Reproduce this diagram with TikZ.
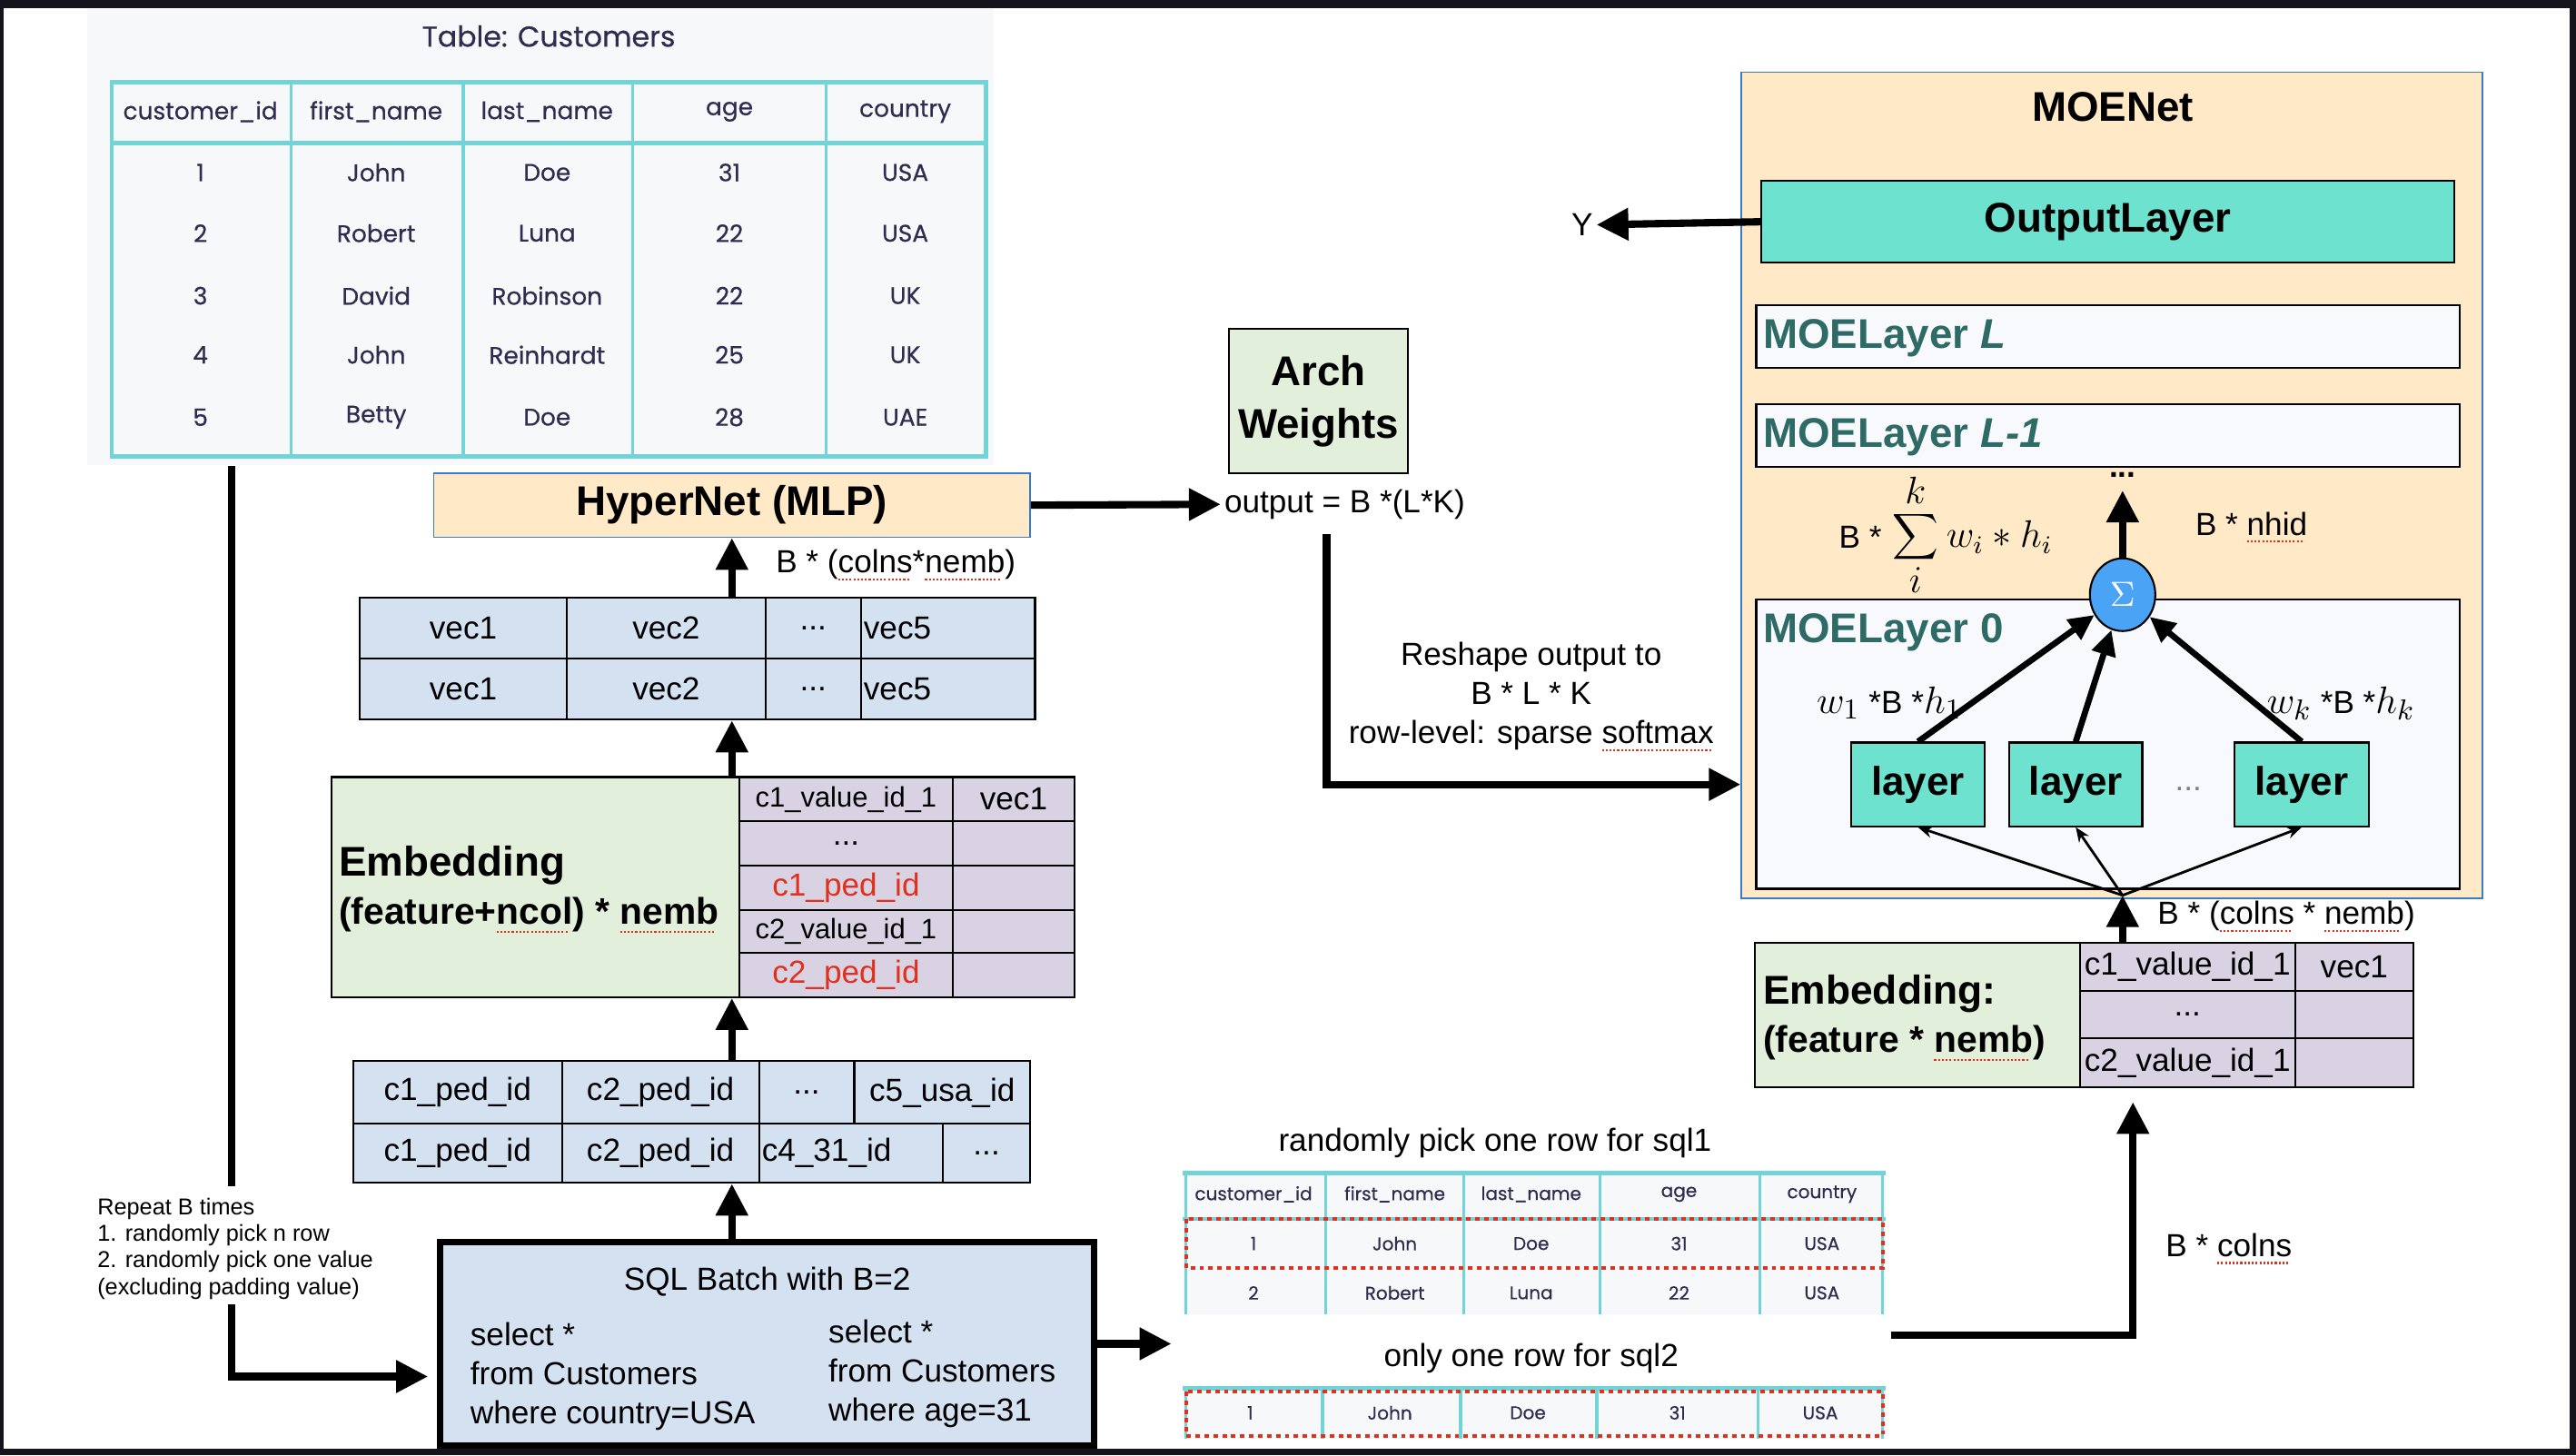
\documentclass[tikz,border=0pt]{standalone}
\usepackage{fontspec}
\setmainfont{Liberation Sans}
\newfontfamily\tabfont[FakeBold=0.5]{Poppins}
\usetikzlibrary{arrows.meta, positioning, fit, shapes.geometric}
\definecolor{framebg}{RGB}{21,19,28}
\definecolor{hyperbg}{RGB}{255,233,198}
\definecolor{hyperline}{RGB}{58,123,200}
\definecolor{archbg}{RGB}{226,239,218}
\definecolor{vecbg}{RGB}{212,225,241}
\definecolor{embbg}{RGB}{216,210,226}
\definecolor{layerbg}{RGB}{108,226,207}
\definecolor{moebg}{RGB}{248,249,253}
\definecolor{moetext}{RGB}{46,107,102}
\definecolor{sumbg}{RGB}{74,163,245}
\definecolor{pedred}{RGB}{224,48,30}
\definecolor{tablebg}{RGB}{247,248,250}
\definecolor{tableline}{RGB}{115,212,215}
\definecolor{tabletext}{RGB}{46,44,79}
% red dotted underline of the spell checker
\newsavebox{\sqbox}
\newcommand{\sq}[1]{\sbox{\sqbox}{#1}\leavevmode\rlap{\color{pedred}\hbox to \wd\sqbox{\leaders\hbox{\rule[-0.45ex]{0.6pt}{0.6pt}\kern0.6pt}\hfil}}\usebox{\sqbox}}

\begin{document}
\begin{tikzpicture}[
    x=0.018087cm, y=-0.018087cm,
    every label/.style={inner sep=0pt, font=\fontsize{10}{12}\selectfont},
    txt/.style={font=\fontsize{10}{12.2}\selectfont, inner sep=1pt},
    bigfont/.style={font=\fontsize{13}{15}\selectfont\bfseries},
    cell/.style={draw, inner sep=0pt, line width=0.6pt},
    veccell/.style={cell, fill=vecbg},
    embcell/.style={cell, fill=embbg},
    greenbox/.style={draw, inner sep=0pt, line width=0.6pt, fill=archbg},
    orangebox/.style={draw=hyperline, inner sep=0pt, line width=0.5pt, fill=hyperbg},
    moebox/.style={draw, inner sep=0pt, line width=0.6pt, fill=moebg},
    layertitle/.style={font=\fontsize{13}{15}\selectfont\bfseries, text=moetext, anchor=west, inner sep=1pt},
    layerbox/.style={draw, inner sep=0pt, line width=0.6pt, fill=layerbg},
    tabtxt/.style={font=\tabfont\fontsize{7.5}{9}\selectfont, text=tabletext, inner sep=0pt},
    pickt/.style={font=\tabfont\fontsize{5.7}{7}\selectfont, text=tabletext, inner sep=0pt},
    tabline/.style={draw=tableline, line width=0.9pt},
    pickbox/.style={draw=pedred, line width=1.2pt, dash pattern=on 1.4pt off 1.4pt},
    sumpart/.style={font=\fontsize{12}{14}\selectfont, inner sep=0pt},
    arrow/.style={-{Triangle[length=0.35cm,width=0.34cm]}, line width=2.3pt},
    warrow/.style={-{Triangle[length=0.28cm,width=0.26cm]}, line width=1.9pt},
    farrow/.style={-{Stealth[length=0.16cm,width=0.13cm]}, line width=0.8pt}
]
    % Frame
    \useasboundingbox (0,0) rectangle (1568,886);
    \fill[framebg] (0,0) rectangle (1568,886);
    \fill[white] (2,5) rectangle (1564,882);

    % Table: Customers
    \node[fit={(53,5) (605,283)}, fill=tablebg, inner sep=0pt] (custtab) {};
    \node[tabtxt, font=\tabfont\fontsize{9}{11}\selectfont] (custtitle) at (334,22) {Table: Customers};
    \draw[tabline, line width=1.4pt] (68,50) rectangle (600,278);
    \draw[tabline, line width=1.4pt] (68,87) -- (600,87);
    \draw[tabline] (177,50) -- (177,278) (282,50) -- (282,278) (385,50) -- (385,278) (503,50) -- (503,278);
    \node[tabtxt] (h1) at (122,68) {customer\_id};
    \node[tabtxt] (h2) at (229,68) {first\_name};
    \node[tabtxt] (h3) at (333,68) {last\_name};
    \node[tabtxt] (h4) at (444,68) {age};
    \node[tabtxt] (h5) at (551,68) {country};
    \node[tabtxt] (r1c1) at (122,105) {1};
    \node[tabtxt] (r1c2) at (229,105) {John};
    \node[tabtxt] (r1c3) at (333,105) {Doe};
    \node[tabtxt] (r1c4) at (444,105) {31};
    \node[tabtxt] (r1c5) at (551,105) {USA};
    \node[tabtxt] (r2c1) at (122,142) {2};
    \node[tabtxt] (r2c2) at (229,142) {Robert};
    \node[tabtxt] (r2c3) at (333,142) {Luna};
    \node[tabtxt] (r2c4) at (444,142) {22};
    \node[tabtxt] (r2c5) at (551,142) {USA};
    \node[tabtxt] (r3c1) at (122,180) {3};
    \node[tabtxt] (r3c2) at (229,180) {David};
    \node[tabtxt] (r3c3) at (333,180) {Robinson};
    \node[tabtxt] (r3c4) at (444,180) {22};
    \node[tabtxt] (r3c5) at (551,180) {UK};
    \node[tabtxt] (r4c1) at (122,216) {4};
    \node[tabtxt] (r4c2) at (229,216) {John};
    \node[tabtxt] (r4c3) at (333,216) {Reinhardt};
    \node[tabtxt] (r4c4) at (444,216) {25};
    \node[tabtxt] (r4c5) at (551,216) {UK};
    \node[tabtxt] (r5c1) at (122,254) {5};
    \node[tabtxt] (r5c2) at (229,254) {Betty};
    \node[tabtxt] (r5c3) at (333,254) {Doe};
    \node[tabtxt] (r5c4) at (444,254) {28};
    \node[tabtxt] (r5c5) at (551,254) {UAE};

    % HyperNet and Arch Weights
    \node[orangebox, fit={(264,288) (627,327)}, label={[bigfont]center:HyperNet (MLP)}] (hyper) {};
    \node[greenbox, fit={(748,200) (857,288)}, label={[align=center, font=\fontsize{13}{16.5}\selectfont\bfseries]center:{Arch\\Weights}}] (arch) {};
    \node[txt, anchor=west] (outtxt) at (743,307) {output = B *(L*K)};
    \node[txt, anchor=west] (hypersize) at (470,344) {B * (\sq{colns}*\sq{nemb})};
    \node[txt, align=center] (reshapetxt) at (932,424) {Reshape output to\\B * L * K\\row-level: sparse \sq{softmax}};

    % Column vectors
    \node[veccell, fit={(219,364) (345,401)}, label=center:vec1] (v11) {};
    \node[veccell, fit={(345,364) (466,401)}, label=center:vec2] (v12) {};
    \node[veccell, fit={(466,364) (524,401)}, label=center:...] (v13) {};
    \node[veccell, fit={(524,364) (630,401)}] (v14) {};
    \node[txt, anchor=west] (v14txt) at (v14.west) {vec5};
    \node[veccell, fit={(219,401) (345,438)}, label=center:vec1] (v21) {};
    \node[veccell, fit={(345,401) (466,438)}, label=center:vec2] (v22) {};
    \node[veccell, fit={(466,401) (524,438)}, label=center:...] (v23) {};
    \node[veccell, fit={(524,401) (630,438)}] (v24) {};
    \node[txt, anchor=west] (v24txt) at (v24.west) {vec5};

    % Embedding (feature+ncol)
    \node[greenbox, fit={(202,473) (450,607)}] (emb1) {};
    \node[txt, anchor=west, bigfont] (emb1title) at (204,527) {Embedding};
    \node[txt, anchor=west, font=\fontsize{11.6}{14}\selectfont\bfseries] (emb1size) at (204,557) {(feature+\sq{ncol}) * \sq{nemb}};
    \node[embcell, fit={(450,473) (580,500)}, label={[font=\fontsize{8.8}{10}\selectfont]center:c1\_value\_id\_1}] (e11) {};
    \node[embcell, fit={(580,473) (654,500)}, label=center:vec1] (e12) {};
    \node[embcell, fit={(450,500) (580,527)}, label=center:...] (e21) {};
    \node[embcell, fit={(580,500) (654,527)}] (e22) {};
    \node[embcell, fit={(450,527) (580,554)}, label={[text=pedred]center:c1\_ped\_id}] (e31) {};
    \node[embcell, fit={(580,527) (654,554)}] (e32) {};
    \node[embcell, fit={(450,554) (580,580)}, label={[font=\fontsize{8.8}{10}\selectfont]center:c2\_value\_id\_1}] (e41) {};
    \node[embcell, fit={(580,554) (654,580)}] (e42) {};
    \node[embcell, fit={(450,580) (580,607)}, label={[text=pedred]center:c2\_ped\_id}] (e51) {};
    \node[embcell, fit={(580,580) (654,607)}] (e52) {};

    % Sampled value ids
    \node[veccell, fit={(215,646) (342,684)}, label=center:c1\_ped\_id] (p11) {};
    \node[veccell, fit={(342,646) (462,684)}, label=center:c2\_ped\_id] (p12) {};
    \node[veccell, fit={(462,646) (520,684)}, label=center:...] (p13) {};
    \node[veccell, fit={(520,646) (627,684)}, label=center:c5\_usa\_id] (p14) {};
    \node[veccell, fit={(215,684) (342,720)}, label=center:c1\_ped\_id] (p21) {};
    \node[veccell, fit={(342,684) (462,720)}, label=center:c2\_ped\_id] (p22) {};
    \node[veccell, fit={(462,684) (574,720)}] (p23) {};
    \node[txt, anchor=west] (p23txt) at (p23.west) {c4\_31\_id};
    \node[veccell, fit={(574,684) (627,720)}, label=center:...] (p24) {};

    % SQL batch
    \node[fit={(268,756) (666,880)}, draw, line width=2pt, fill=vecbg, inner sep=0pt] (sql) {};
    \node[txt] (sqltitle) at (467,780) {SQL Batch with B=2};
    \node[txt, anchor=west, align=left] (sql1) at (284,838) {select *\\from Customers\\where country=USA};
    \node[txt, anchor=west, align=left] (sql2) at (502,836) {select *\\from Customers\\where age=31};

    % Sampling note
    \node[txt, anchor=north west, align=left, font=\fontsize{7.2}{8.3}\selectfont] (repeat) at (57,727) {Repeat B times\\1. randomly pick n row\\2. randomly pick one value\\(excluding padding value)};
    \coordinate (reptop) at (141,722);
    \coordinate (repbot) at (141,794);
    \draw[line width=2.3pt] (custtab.south -| reptop) -- (reptop);
    \draw[arrow, shorten >=0.1cm] (repbot) |- ([yshift=-0.36cm]sql.west);

    % Picked rows
    \node[txt] (pick1txt) at (910,696) {randomly pick one row for sql1};
    \node[fit={(720,712) (1148,800)}, fill=tablebg, inner sep=0pt] (pick1) {};
    \draw[tabline, line width=1.4pt] (720,714) -- (1148,714);
    \draw[tabline] (720,742) -- (1148,742);
    \draw[tabline] (722,714) -- (722,800) (807,714) -- (807,800) (891,714) -- (891,800) (974,714) -- (974,800) (1071,714) -- (1071,800) (1146,714) -- (1146,800);
    \node[pickt] (q0c1) at (763,727) {customer\_id};
    \node[pickt] (q0c2) at (849,727) {first\_name};
    \node[pickt] (q0c3) at (932,727) {last\_name};
    \node[pickt] (q0c4) at (1022,727) {age};
    \node[pickt] (q0c5) at (1109,727) {country};
    \node[pickt] (q1c1) at (763,757) {1};
    \node[pickt] (q1c2) at (849,757) {John};
    \node[pickt] (q1c3) at (932,757) {Doe};
    \node[pickt] (q1c4) at (1022,757) {31};
    \node[pickt] (q1c5) at (1109,757) {USA};
    \node[pickt] (q2c1) at (763,787) {2};
    \node[pickt] (q2c2) at (849,787) {Robert};
    \node[pickt] (q2c3) at (932,787) {Luna};
    \node[pickt] (q2c4) at (1022,787) {22};
    \node[pickt] (q2c5) at (1109,787) {USA};
    \draw[pickbox] (722,742) rectangle (1146,772);

    \node[txt] (pick2txt) at (932,827) {only one row for sql2};
    \node[fit={(720,843) (1148,876)}, fill=tablebg, inner sep=0pt] (pick2) {};
    \draw[tabline, line width=1.4pt] (720,845) -- (1148,845);
    \draw[tabline] (722,845) -- (722,876) (805,845) -- (805,876) (889,845) -- (889,876) (972,845) -- (972,876) (1070,845) -- (1070,876) (1146,845) -- (1146,876);
    \node[pickt] (s1c1) at (761,860) {1};
    \node[pickt] (s1c2) at (846,860) {John};
    \node[pickt] (s1c3) at (930,860) {Doe};
    \node[pickt] (s1c4) at (1021,860) {31};
    \node[pickt] (s1c5) at (1108,860) {USA};
    \draw[pickbox] (722,847) rectangle (1146,874);

    % MOENet
    \node[orangebox, fit={(1060,44) (1511,547)}] (moenet) {};
    \node[txt, bigfont] (moetitle) at (1286,65) {MOENet};
    \node[layerbox, fit={(1072,110) (1494,160)}, label={[bigfont]center:OutputLayer}] (outl) {};
    \node[txt] (ytxt) at (963,137) {Y};
    \node[moebox, fit={(1069,186) (1497,224)}] (moel) {};
    \node[layertitle] (moeltxt) at (1071,206) {MOELayer \textit{L}};
    \node[moebox, fit={(1069,246) (1497,284)}] (moel1) {};
    \node[layertitle] (moel1txt) at (1071,266) {MOELayer \textit{L-1}};
    \node[txt, font=\fontsize{10}{12}\selectfont\bfseries, inner sep=0pt] (moedots) at (1292,289) {...};
    \node[moebox, fit={(1069,365) (1497,541)}] (moe0) {};
    \node[layertitle] (moe0txt) at (1071,385) {MOELayer 0};
    \node[ellipse, draw, line width=0.6pt, fill=sumbg, minimum width=0.72cm, minimum height=0.8cm, inner sep=0pt, text=white, font=\fontsize{11}{13}\selectfont] (sigma) at (1292,362) {$\Sigma$};

    % Weighted sum formula
    \node[sumpart] (sumsym) at (1166,327) {$\displaystyle\sum$};
    \node[sumpart, above=2pt of sumsym] (sumk) {$k$};
    \node[sumpart, below=1pt of sumsym] (sumi) {$i$};
    \node[txt, left=2pt of sumsym] (sumb) {B *};
    \node[sumpart, right=2pt of sumsym] (sumwh) {$w_i * h_i$};
    \node[txt, anchor=west] (nhidtxt) at (1334,321) {B * \sq{nhid}};

    % Experts
    \node[layerbox, fit={(1127,452) (1208,503)}, label={[font=\fontsize{12.5}{15}\selectfont\bfseries]center:layer}] (l1) {};
    \node[layerbox, fit={(1223,452) (1304,503)}, label={[font=\fontsize{12.5}{15}\selectfont\bfseries]center:layer}] (l2) {};
    \node[layerbox, fit={(1360,452) (1442,503)}, label={[font=\fontsize{12.5}{15}\selectfont\bfseries]center:layer}] (l3) {};
    \node[txt, text=gray] (ldots) at (1332,480) {...};
    \node[txt] (w1txt) at (1150,428) {{\fontsize{13}{15}\selectfont$w_1$} *B *{\fontsize{13}{15}\selectfont$h_1$}};
    \node[txt] (wktxt) at (1425,428) {{\fontsize{13}{15}\selectfont$w_k$} *B *{\fontsize{13}{15}\selectfont$h_k$}};

    % Embedding (feature)
    \node[greenbox, fit={(1068,574) (1266,662)}] (emb2) {};
    \node[txt, anchor=west, font=\fontsize{12.6}{15}\selectfont\bfseries] (emb2title) at (1071,605) {Embedding:};
    \node[txt, anchor=west, font=\fontsize{11.6}{14}\selectfont\bfseries] (emb2size) at (1071,635) {(feature * \sq{nemb})};
    \node[embcell, fit={(1266,574) (1397,603)}, label=center:c1\_value\_id\_1] (f11) {};
    \node[embcell, fit={(1397,574) (1469,603)}, label=center:vec1] (f12) {};
    \node[embcell, fit={(1266,603) (1397,632)}, label=center:...] (f21) {};
    \node[embcell, fit={(1397,603) (1469,632)}] (f22) {};
    \node[embcell, fit={(1266,632) (1397,662)}, label=center:c2\_value\_id\_1] (f31) {};
    \node[embcell, fit={(1397,632) (1469,662)}] (f32) {};
    \coordinate (fan) at (1292,545);
    \node[txt, anchor=west] (embsize) at (1311,558) {B * (\sq{colns} * \sq{nemb})};
    \node[txt, anchor=west] (colnstxt) at (1316,760) {B * \sq{colns}};

    % Arrows up the middle column
    \draw[arrow] (hyper.south |- v11.north) -- (hyper.south);
    \draw[arrow] (hyper.south |- emb1.north) -- (hyper.south |- v21.south);
    \draw[arrow] (hyper.south |- p11.north) -- (hyper.south |- emb1.south);
    \draw[arrow] (hyper.south |- sql.north) -- (hyper.south |- p21.south);

    % Arrows to the arch weights and MOENet
    \draw[arrow] (hyper.east) -- (outtxt.west);
    \draw[arrow] ([xshift=-0.2cm, yshift=-0.12cm]outtxt.south) |- (moenet.west |- l1);
    \draw[arrow] (outl.west) -- (ytxt);
    \draw[arrow, shorten >=0.14cm] (sigma) -- (moedots);
    \draw[warrow] (l1.north) -- (sigma);
    \draw[warrow] (l2.north) -- (sigma);
    \draw[warrow] (l3.north) -- (sigma);
    \draw[farrow] (fan) -- (l1.south);
    \draw[farrow] (fan) -- (l2.south);
    \draw[farrow] (fan) -- (l3.south);
    \draw[arrow] (fan |- f11.north) -- (fan);

    % Arrows through the picked rows
    \coordinate (pickin) at (713,818);
    \coordinate (pickout) at (1151,813);
    \draw[arrow] (sql.east) -- (pickin);
    \draw[arrow, shorten >=0.15cm] (pickout) -| ([xshift=-0.6cm]f31.south);
\end{tikzpicture}
\end{document}
